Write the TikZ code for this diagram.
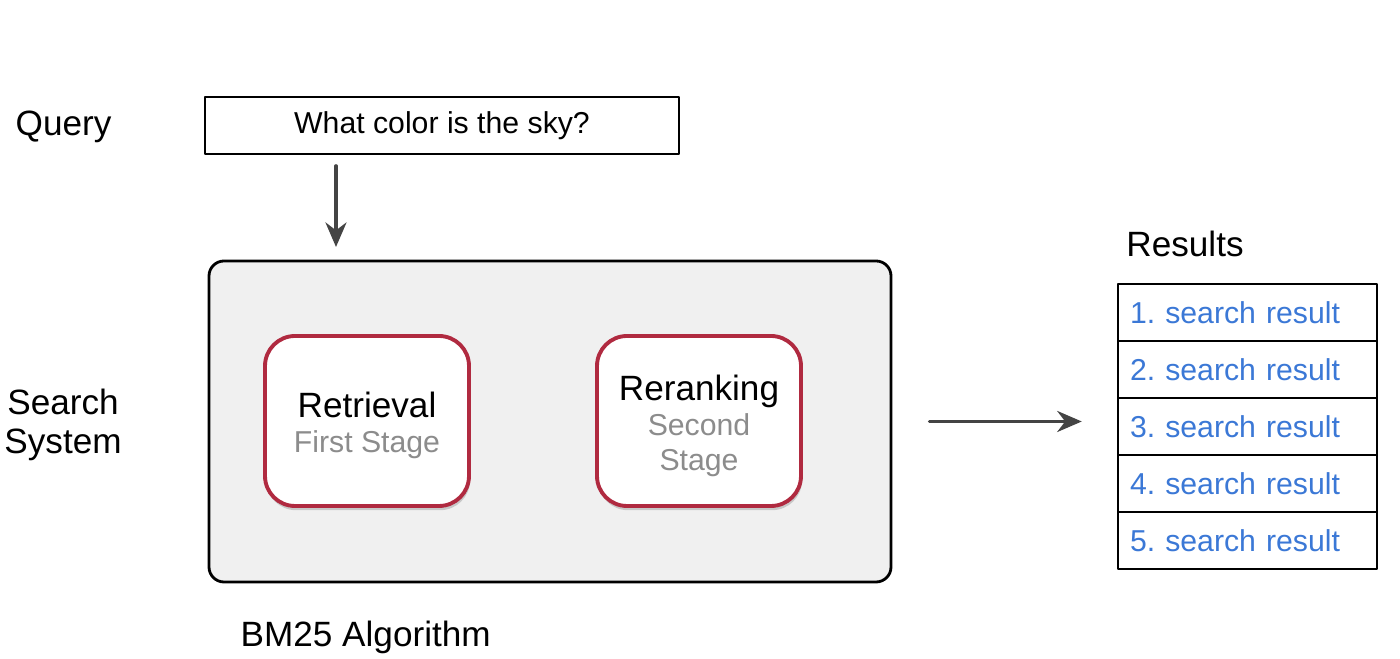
\documentclass[tikz,border=0pt]{standalone}
\usepackage{fontspec}
\setmainfont{Liberation Sans}
\usetikzlibrary{arrows.meta,shadows,calc}
\definecolor{stagered}{HTML}{B02A40}
\definecolor{stagegray}{HTML}{8C8C8C}
\definecolor{linkblue}{HTML}{3B78D6}
\definecolor{panelgray}{HTML}{F0F0F0}
\definecolor{arrowgray}{HTML}{444444}
\newcommand{\bigsz}{\fontsize{10}{12}\selectfont}
\newcommand{\smallsz}{\fontsize{8.6}{10.5}\selectfont}
\begin{document}
\frenchspacing
\begin{tikzpicture}[line cap=round, line join=round, >={Stealth[length=7pt,width=6pt]},
  bigfont/.style={font=\bigsz},
  smallfont/.style={font=\smallsz},
  flow/.style={->, draw=arrowgray, line width=0.9pt},
  stagebox/.style={draw=stagered, line width=1.1pt, fill=white, rounded corners=0.3cm,
    minimum width=2.04cm, minimum height=1.70cm, align=center,
    drop shadow={shadow xshift=0.3pt, shadow yshift=-1.2pt, opacity=0.35}},
  rowbox/.style={draw, line width=0.7pt, minimum width=2.59cm, minimum height=0.57cm,
    text width=2.35cm, align=left, inner sep=0.12cm, smallfont, text=linkblue}]
% Frame of the page
\useasboundingbox (0,0) rectangle (14,6.59);
% Row labels on the left
\node[bigfont, anchor=west, inner sep=0pt] (querylabel) at (0.15,5.32) {Query};
\node[bigfont, align=center] (searchlabel) at (0.63,2.34) {Search\\[-1pt]System};
% Query box
\node[draw, line width=0.7pt, minimum width=4.74cm, minimum height=0.57cm, smallfont]
  (query) at (4.42,5.335) {What color is the sky?};
% Search system panel
\node[draw, line width=0.8pt, fill=panelgray, rounded corners=0.15cm,
  minimum width=6.82cm, minimum height=3.21cm] (system) at (5.50,2.375) {};
\node[stagebox] (retrieval) at (3.67,2.38)
  {{\bigsz\rule{0pt}{10pt}Retrieval}\\[-2pt]{\smallsz\color{stagegray}First Stage}};
\node[stagebox] (rerank) at (6.99,2.38)
  {{\bigsz\rule{0pt}{10pt}Reranking}\\[-2pt]{\smallsz\color{stagegray}Second}\\[-2pt]{\smallsz\color{stagegray}Stage}};
\node[bigfont, anchor=west, inner sep=0pt] (algo) at (2.40,0.22) {BM25 Algorithm};
% Query enters the panel
\coordinate (qin) at (3.36,4.12);
\draw[flow, shorten <=3pt] (query.south -| qin) -- (qin);
% Results list
\node[bigfont] (reslabel) at (11.85,4.15) {Results};
\foreach \i in {1,...,5} {
  \node[rowbox] (res\i) at (12.475,{3.75-0.285-(\i-1)*0.57}) {\i. search result};
}
% Output arrow
\draw[flow, shorten <=0.37cm, shorten >=0.35cm] (system.east) -- (system.east -| res3.west);
\end{tikzpicture}
\end{document}
